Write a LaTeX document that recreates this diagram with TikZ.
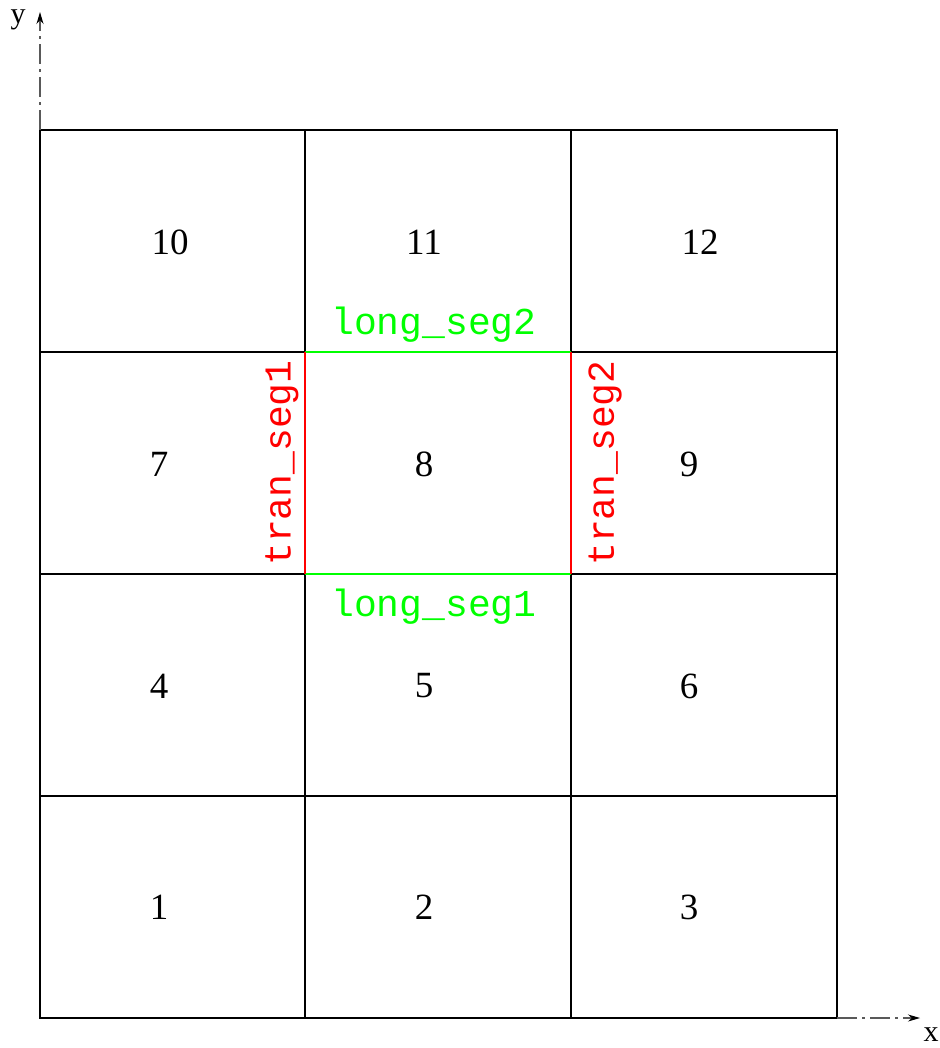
\documentclass[tikz,border=0pt]{standalone}
\usepackage{fontspec}
\setmainfont{Liberation Serif}
\setmonofont{Liberation Mono}
\usetikzlibrary{arrows.meta}
\begin{document}
\begin{tikzpicture}[x=1pt,y=-1pt,
  num/.style={font=\fontsize{37}{42}\selectfont, inner sep=0pt},
  seglbl/.style={font=\ttfamily\fontsize{38}{42}\selectfont, inner sep=0pt},
  grid/.style={line width=1.6pt, black},
  axis/.style={line width=1.2pt, gray!70!black, dash pattern=on 20pt off 5pt on 3pt off 5pt, -{Stealth[length=12pt,width=7pt,black]}},
  axlbl/.style={font=\fontsize{30}{34}\selectfont, inner sep=0pt}]
\useasboundingbox (0,0) rectangle (939,1048);
% grid
\draw[grid] (40,130) rectangle (837,1018);
\foreach \x in {305,571} \draw[grid] (\x,130) -- (\x,1018);
\foreach \y in {352,574,796} \draw[grid] (40,\y) -- (837,\y);
% coloured segments
\coordinate (a) at (305,352); \coordinate (b) at (571,352);
\coordinate (c) at (305,574); \coordinate (d) at (571,574);
\draw[line width=1.6pt, green] (a) -- (b);
\draw[line width=1.6pt, green] (c) -- (d);
\draw[line width=1.6pt, red] (a) -- (c);
\draw[line width=1.6pt, red] (b) -- (d);
% axes
\coordinate (o1) at (40,130); \coordinate (ytip) at (40,12);
\coordinate (o2) at (837,1018); \coordinate (xtip) at (920,1018);
\draw[axis] (o1) -- (ytip);
\draw[axis] (o2) -- (xtip);
\node[axlbl] (ylab) at (18,20) {y};
\node[axlbl] (xlab) at (931,1035) {x};
% numbers
\node[num] (n10) at (170,242) {10};
\node[num] (n11) at (424,242) {11};
\node[num] (n12) at (700,242) {12};
\node[num] (n7) at (159,464) {7};
\node[num] (n8) at (424,464) {8};
\node[num] (n9) at (689,464) {9};
\node[num] (n4) at (159,686) {4};
\node[num] (n5) at (424,686) {5};
\node[num] (n6) at (689,686) {6};
\node[num] (n1) at (159,907) {1};
\node[num] (n2) at (424,907) {2};
\node[num] (n3) at (689,907) {3};
% segment labels
\node[seglbl, green] (ls2) at (434,325) {long\_seg2};
\node[seglbl, green] (ls1) at (434,607) {long\_seg1};
\node[seglbl, red, rotate=90] (ts1) at (282,463) {tran\_seg1};
\node[seglbl, red, rotate=90] (ts2) at (605,463) {tran\_seg2};
\end{tikzpicture}
\end{document}
